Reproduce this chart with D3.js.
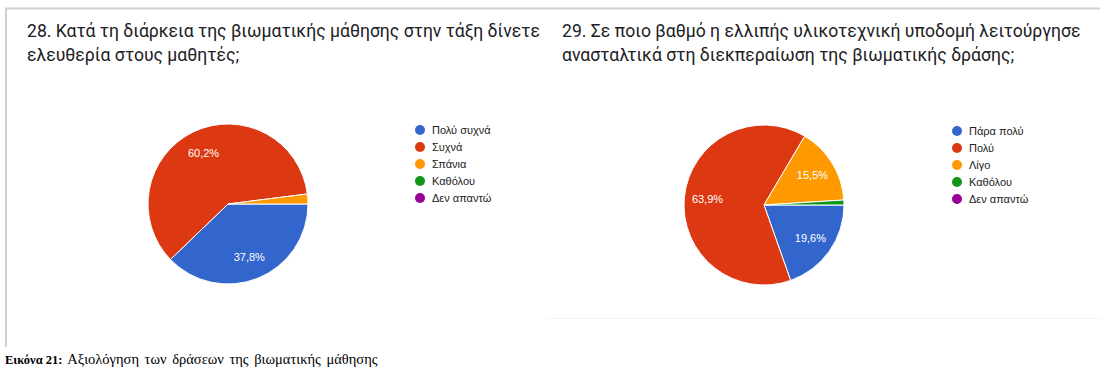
<!DOCTYPE html>
<html>
<head>
<meta charset="utf-8">
<script src="https://cdn.jsdelivr.net/npm/d3@7"></script>
<style>
  html, body { margin: 0; padding: 0; background: #fff; }
  svg { display: block; }
</style>
</head>
<body>
<svg id="chart" width="1100" height="372"></svg>
<script>
// Question 28
const q28Title = ["28. Κατά τη διάρκεια της βιωματικής μάθησης στην τάξη δίνετε", "ελευθερία στους μαθητές;"];
const q28Categories = ["Πολύ συχνά", "Συχνά", "Σπάνια", "Καθόλου", "Δεν απαντώ"];
const q28Values = [37.8, 60.2, 2.0, 0, 0];

// Question 29
const q29Title = ["29. Σε ποιο βαθμό η ελλιπής υλικοτεχνική υποδομή λειτούργησε", "ανασταλτικά στη διεκπεραίωση της βιωματικής δράσης;"];
const q29Categories = ["Πάρα πολύ", "Πολύ", "Λίγο", "Καθόλου", "Δεν απαντώ"];
const q29Values = [19.6, 63.9, 15.5, 1.0, 0];

const sliceColors = ["#3366cc", "#dc3912", "#ff9900", "#109618", "#990099"];
const caption = { bold: "Εικόνα 21:", rest: " Αξιολόγηση των δράσεων της βιωματικής μάθησης" };

const svg = d3.select("#chart");

// Frame of the screenshot panel
svg.append("line").attr("x1", 5).attr("x2", 1100).attr("y1", 8.5).attr("y2", 8.5)
  .attr("stroke", "#cfcfcf").attr("stroke-width", 2);
svg.append("line").attr("x1", 6).attr("x2", 6).attr("y1", 8).attr("y2", 347)
  .attr("stroke", "#cfcfcf").attr("stroke-width", 2);
svg.append("line").attr("x1", 545).attr("x2", 1100).attr("y1", 318.5).attr("y2", 318.5)
  .attr("stroke", "#f4f4f4").attr("stroke-width", 1);

function drawPanel(opts) {
  const g = svg.append("g");

  // Question title
  const title = g.append("text")
    .attr("font-family", "Roboto, 'Noto Sans', sans-serif")
    .attr("font-size", 17.6)
    .attr("fill", "#202124");
  opts.title.forEach((line, i) => {
    title.append("tspan").attr("x", opts.titleX).attr("y", 37 + i * 24).text(line);
  });

  // Pie starts at 3 o'clock and runs clockwise
  const pie = d3.pie().sort(null).value(d => d.value)
    .startAngle(Math.PI / 2).endAngle(Math.PI / 2 + 2 * Math.PI);
  const data = opts.categories.map((c, i) => ({ cat: c, value: opts.values[i], color: sliceColors[i] }));
  const arcs = pie(data).filter(d => d.data.value > 0);

  const r = 80;
  const arc = d3.arc().innerRadius(0).outerRadius(r);
  const labelArc = d3.arc().innerRadius(r * 0.71).outerRadius(r * 0.71);

  const pg = g.append("g").attr("transform", `translate(${opts.cx},${opts.cy})`);
  pg.selectAll("path").data(arcs).join("path")
    .attr("d", arc)
    .attr("fill", d => d.data.color)
    .attr("stroke", "#fff")
    .attr("stroke-width", 1);

  const fmt = v => d3.format(".1f")(v).replace(".", ",") + "%";
  pg.selectAll("text").data(arcs.filter(d => d.data.value >= 5)).join("text")
    .attr("transform", d => `translate(${labelArc.centroid(d)})`)
    .attr("text-anchor", "middle")
    .attr("dy", "0.35em")
    .attr("font-family", "Arial, 'Liberation Sans', sans-serif")
    .attr("font-size", 11)
    .attr("fill", "#fff")
    .text(d => fmt(d.data.value));

  // Legend
  const y = d3.scalePoint().domain(opts.categories).range([0, 68]);
  const lg = g.append("g").attr("transform", `translate(${opts.legendX},${opts.legendY})`);
  const items = lg.selectAll("g").data(data).join("g")
    .attr("transform", d => `translate(0,${y(d.cat)})`);
  items.append("circle").attr("r", 5).attr("fill", d => d.color);
  items.append("text")
    .attr("x", 12).attr("dy", "0.35em")
    .attr("font-family", "Arial, 'Liberation Sans', sans-serif")
    .attr("font-size", 11)
    .attr("fill", "#222")
    .text(d => d.cat);
}

drawPanel({ title: q28Title, titleX: 27, categories: q28Categories, values: q28Values,
  cx: 228, cy: 204, legendX: 420, legendY: 130 });
drawPanel({ title: q29Title, titleX: 562, categories: q29Categories, values: q29Values,
  cx: 764, cy: 205, legendX: 957, legendY: 131 });

// Figure caption
const cap = svg.append("text")
  .attr("x", 5).attr("y", 364)
  .attr("font-family", "'Liberation Serif', 'Times New Roman', serif")
  .attr("font-size", 12.5)
  .attr("fill", "#000");
cap.append("tspan").attr("font-weight", "bold").text(caption.bold);
cap.append("tspan").attr("font-size", 14.5).attr("word-spacing", 2).text(caption.rest);
</script>
</body>
</html>
